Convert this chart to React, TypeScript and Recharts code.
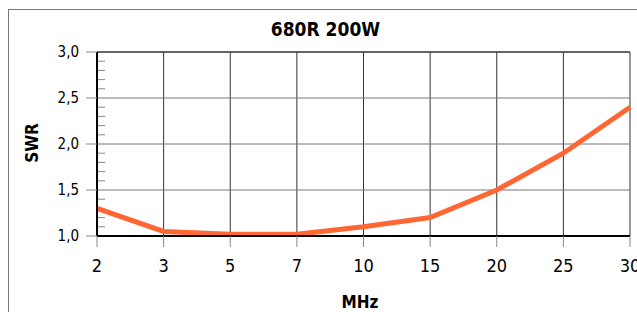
import React from "react";
import {
  LineChart,
  Line,
  XAxis,
  YAxis,
  CartesianGrid,
  ReferenceLine,
} from "recharts";

// frequency bands (MHz) and measured SWR
const bands = ["2", "3", "5", "7", "10", "15", "20", "25", "30"];
const swr = [1.3, 1.05, 1.02, 1.02, 1.1, 1.2, 1.5, 1.9, 2.4];
const majorTicks = [1.0, 1.5, 2.0, 2.5, 3.0];
const minorTicks = [
  1.1, 1.2, 1.3, 1.4, 1.6, 1.7, 1.8, 1.9, 2.1, 2.2, 2.3, 2.4, 2.6, 2.7, 2.8,
  2.9,
];

const FONT = "'DejaVu Sans Condensed', 'DejaVu Sans', sans-serif";

const data = bands.map((b, i) => ({ mhz: b, swr: swr[i] }));

const fmt = (v: number) => v.toFixed(1).replace(".", ",");

// short inward tick drawn at the left end of a reference line
const minorShape = (p: any) => (
  <line x1={p.x1} y1={p.y1} x2={p.x1 + 8} y2={p.y1} stroke="#888" />
);

export default function App() {
  return (
    <div
      style={{
        position: "absolute",
        left: 0,
        top: 0,
        width: 637,
        height: 312,
        overflow: "hidden",
        background: "#fff",
        fontFamily: FONT,
      }}
    >
      <div
        style={{
          position: "absolute",
          left: 8,
          top: 9,
          width: 700,
          height: 400,
          border: "1px solid #777",
        }}
      />
      <div style={{ position: "absolute", left: 0, top: 0 }}>
        <LineChart
          width={637}
          height={312}
          data={data}
          margin={{ top: 52, right: 7, bottom: 0, left: 0 }}
        >
          <CartesianGrid horizontal={false} stroke="#333" />
          <CartesianGrid vertical={false} stroke="#777" />
          <XAxis
            dataKey="mhz"
            scale="point"
            padding={{ left: 0, right: 0 }}
            height={76}
            interval={0}
            tickSize={11}
            tickMargin={12}
            axisLine={{ stroke: "#000", strokeWidth: 2 }}
            tickLine={{ stroke: "#888" }}
            tick={{ fill: "#000", fontSize: 18, fontFamily: FONT }}
          />
          <YAxis
            width={97}
            domain={[1, 3]}
            ticks={majorTicks}
            interval={0}
            tickSize={11}
            tickMargin={7}
            tickFormatter={fmt}
            axisLine={{ stroke: "#000", strokeWidth: 2 }}
            tickLine={{ stroke: "#888" }}
            tick={{ fill: "#000", fontSize: 15, fontFamily: FONT }}
          />
          {minorTicks.map((v) => (
            <ReferenceLine key={v} y={v} shape={minorShape} />
          ))}
          <ReferenceLine y={3} stroke="#111" />
          <Line
            type="linear"
            dataKey="swr"
            stroke="#FF6633"
            strokeWidth={5}
            dot={false}
            isAnimationActive={false}
          />
        </LineChart>
      </div>
      <svg
        width={637}
        height={312}
        style={{ position: "absolute", left: 0, top: 0, pointerEvents: "none" }}
      >
        <text
          x={325.5}
          y={36}
          textAnchor="middle"
          fontFamily={FONT}
          fontWeight="bold"
          fontSize={19}
          fill="#000"
        >
          680R 200W
        </text>
        <text
          x={38}
          y={143}
          textAnchor="middle"
          transform="rotate(-90 38 143)"
          fontFamily={FONT}
          fontWeight="bold"
          fontSize={17}
          fill="#000"
        >
          SWR
        </text>
        <text
          x={360}
          y={308}
          textAnchor="middle"
          fontFamily={FONT}
          fontWeight="bold"
          fontSize={17}
          fill="#000"
        >
          MHz
        </text>
      </svg>
    </div>
  );
}
